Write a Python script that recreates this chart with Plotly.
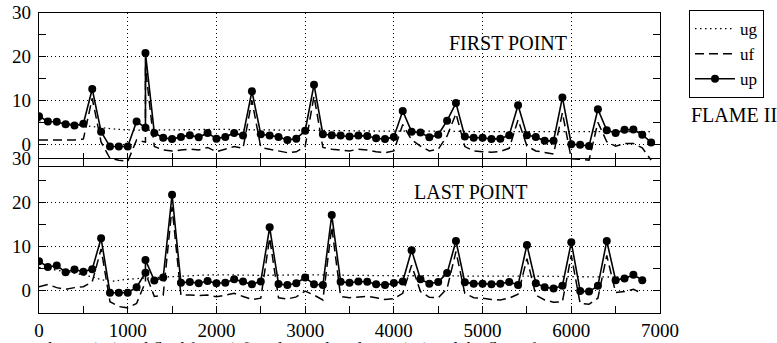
import plotly.graph_objects as go

# ---------------- data ----------------
x_first = [0, 100, 200, 300, 400, 500, 600, 700, 800, 900, 1000, 1100, 1200, 1200,
           1300, 1400, 1500, 1600, 1700, 1800, 1900, 2000, 2100, 2200, 2300, 2400,
           2500, 2600, 2700, 2800, 2900, 3000, 3100, 3200, 3300, 3400, 3500, 3600,
           3700, 3800, 3900, 4000, 4100, 4200, 4300, 4400, 4500, 4600, 4700, 4800,
           4900, 5000, 5100, 5200, 5300, 5400, 5500, 5600, 5700, 5800, 5900, 6000,
           6100, 6200, 6300, 6400, 6500, 6600, 6700, 6800, 6900]
up_first = [6.4, 5.2, 5.15, 4.6, 4.3, 4.7, 12.6, 2.9, -0.5, -0.5, -0.5, 5.2, 3.8, 20.8,
            2.6, 1.5, 1.2, 1.7, 2.1, 1.6, 2.6, 1.3, 1.7, 2.6, 2.0, 12.1,
            2.3, 2.0, 1.7, 1.0, 1.3, 3.1, 13.6, 2.3, 2.1, 2.0, 1.8, 2.0,
            1.9, 1.4, 1.2, 1.7, 7.6, 2.9, 2.7, 1.6, 2.2, 5.4, 9.4, 1.8,
            1.5, 1.5, 1.2, 1.3, 2.1, 8.9, 2.1, 1.7, 0.8, 0.8, 10.7, 0.0,
            -0.1, -0.4, 8.0, 3.2, 2.6, 3.3, 3.4, 2.2, 0.45]
uf_first = [1.0, 1.0, 1.1, 1.0, 1.0, 1.2, 10.5, 0.5, -3.2, -3.6, -3.9, 1.0, 0.5, 17.5,
            -0.5, -1.3, -1.5, -1.3, -1.1, -1.3, -0.7, -1.7, -1.1, -0.5, -0.9, 10.0,
            -0.7, -1.1, -1.4, -1.9, -1.7, -0.5, 11.0, -0.7, -1.1, -1.3, -1.5, -1.1,
            -1.3, -1.7, -1.9, -1.5, 4.5, 1.0, -0.4, -1.5, -1.1, 1.9, 7.0, -0.5,
            -1.5, -1.7, -1.8, -1.6, -0.9, 5.6, -0.4, -1.5, -1.9, -2.2, 7.2, -3.3,
            -3.4, -3.6, 5.0, 0.6, -0.4, 0.2, 0.2, -0.8, -3.6]
xg_first = [0, 500, 800, 1000, 1500, 2000, 2500, 3000, 3500, 4000, 4500, 5000, 5500, 6000, 6500, 6900]
ug_first = [5.4, 4.3, 3.6, 3.3, 3.3, 3.4, 3.3, 3.2, 3.1, 3.0, 3.0, 2.9, 2.9, 2.9, 2.9, 2.9]

x_last = [0, 100, 200, 300, 400, 500, 600, 700, 800, 900, 1000, 1100, 1200, 1200,
          1300, 1400, 1500, 1600, 1700, 1800, 1900, 2000, 2100, 2200, 2300, 2400,
          2500, 2600, 2700, 2800, 2900, 3000, 3100, 3200, 3300, 3400, 3500, 3600,
          3700, 3800, 3900, 4000, 4100, 4200, 4300, 4400, 4500, 4600, 4700, 4800,
          4900, 5000, 5100, 5200, 5300, 5400, 5500, 5600, 5700, 5800, 5900, 6000,
          6100, 6200, 6300, 6400, 6500, 6600, 6700, 6800]
up_last = [6.7, 5.4, 5.7, 4.2, 4.8, 4.3, 4.9, 11.9, -0.45, -0.45, -0.45, 0.8, 4.1, 7.0,
           2.3, 3.0, 21.8, 1.8, 2.0, 1.7, 2.2, 1.7, 1.8, 2.6, 2.1, 1.45,
           2.1, 14.4, 1.5, 1.3, 1.7, 3.0, 1.45, 1.3, 17.2, 2.05, 1.8, 2.1,
           2.05, 1.45, 1.3, 1.75, 2.1, 9.2, 2.6, 1.6, 2.0, 4.0, 11.3, 1.9,
           1.6, 1.6, 1.45, 1.6, 2.0, 1.3, 10.4, 1.7, 0.8, 0.5, 1.15, 11.0,
           -0.07, -0.2, 1.1, 11.3, 2.4, 2.8, 3.6, 2.4]
uf_last = [0.9, 1.4, 0.7, 0.3, 0.7, 0.9, 2.0, 9.5, -2.5, -3.6, -3.9, -2.9, 2.0, 4.0,
           -1.3, -1.0, 19.0, -1.0, -1.0, -1.1, -1.0, -1.4, -1.0, -0.6, -1.3, -2.0,
           -1.7, 12.0, -1.6, -1.9, -1.4, -0.1, -1.0, -2.1, 14.5, -1.3, -1.6, -1.4,
           -1.3, -1.6, -2.0, -1.8, -0.6, 5.8, -0.2, -1.5, -1.6, 0.5, 8.9, -0.6,
           -1.6, -1.7, -2.0, -2.1, -1.7, -0.8, 7.3, -1.0, -2.1, -2.6, -2.5, 8.0,
           -2.9, -3.1, -1.7, 8.0, -0.4, -0.2, 0.3, -0.6]
xg_last = [0, 500, 800, 1000, 1500, 2000, 2500, 3000, 3500, 4000, 4500, 5000, 5500, 6000, 6500, 6800]
ug_last = [5.3, 3.6, 2.2, 2.6, 3.2, 3.6, 3.5, 3.6, 3.5, 3.4, 3.4, 3.3, 3.3, 3.2, 3.1, 3.0]

y_ticks = [0, 10, 20, 30]
x_ticks = [0, 1000, 2000, 3000, 4000, 5000, 6000, 7000]
series_names = ["ug", "uf", "up"]

FONT = "Liberation Serif"
W, H = 777, 343

fig = go.Figure()

def add_panel(xg, ug, x, uf, up, xa, ya, legend):
    fig.add_trace(go.Scatter(x=xg, y=ug, mode="lines", name=series_names[0],
                             line=dict(color="black", width=1.3, dash="1.5px,3.5px", shape="spline"),
                             xaxis=xa, yaxis=ya, showlegend=legend))
    fig.add_trace(go.Scatter(x=x, y=uf, mode="lines", name=series_names[1],
                             line=dict(color="black", width=1.5, dash="9px,5px"),
                             xaxis=xa, yaxis=ya, showlegend=legend))
    fig.add_trace(go.Scatter(x=x, y=up, mode="lines+markers", name=series_names[2],
                             line=dict(color="black", width=1.6),
                             marker=dict(color="black", size=8),
                             xaxis=xa, yaxis=ya, showlegend=legend))

add_panel(xg_first, ug_first, x_first, uf_first, up_first, "x", "y", True)
add_panel(xg_last, ug_last, x_last, uf_last, up_last, "x2", "y2", False)

xdom = [39 / W, 660 / W]
ydom_top = [1 - 166.3 / H, 1 - 12.7 / H]
ydom_bot = [1 - 312.7 / H, 1 - 158.7 / H]

common_x = dict(range=[0, 7000], tickvals=x_ticks, showgrid=True, gridcolor="black",
                griddash="1px,3px", gridwidth=1, showline=True, linecolor="black",
                linewidth=1.2, mirror=True, ticks="inside", tickcolor="black",
                zeroline=False, domain=xdom, automargin=False,
                tickfont=dict(family=FONT, size=19, color="black"))
common_y = dict(range=[-5, 30], tickvals=y_ticks, showgrid=True, gridcolor="black",
                griddash="1px,3px", gridwidth=1, showline=True, linecolor="black",
                linewidth=1.2, mirror="ticks", ticks="inside", ticklen=7, tickcolor="black",
                zeroline=False, automargin=False, ticklabelstandoff=3,
                minor=dict(dtick=5, tick0=0, ticks="inside", ticklen=7, tickcolor="black", showgrid=False),
                tickfont=dict(family=FONT, size=19, color="black"))

fig.update_layout(
    width=W, height=H, autosize=False,
    margin=dict(l=0, r=0, t=0, b=0),
    paper_bgcolor="white", plot_bgcolor="rgba(0,0,0,0)",
    font=dict(family=FONT, color="black"),
    xaxis=dict(common_x, anchor="y", showticklabels=False, ticklen=13,
               minor=dict(dtick=500, tick0=0, ticks="inside", ticklen=13, tickcolor="black", showgrid=False)),
    yaxis=dict(common_y, domain=ydom_top, anchor="x"),
    xaxis2=dict(common_x, anchor="y2", showticklabels=True, ticklen=7,
                minor=dict(dtick=500, tick0=0, ticks="inside", ticklen=7, tickcolor="black", showgrid=False)),
    yaxis2=dict(common_y, domain=ydom_bot, anchor="x2"),
    legend=dict(x=689 / W, y=1 - 10 / H, xanchor="left", yanchor="top",
                bordercolor="black", borderwidth=1, bgcolor="white",
                font=dict(family=FONT, size=17, color="black"),
                tracegroupgap=0, itemwidth=40),
    annotations=[
        dict(text="FIRST POINT", x=508 / W, y=1 - 30 / H, xref="paper", yref="paper",
             showarrow=False, font=dict(family=FONT, size=20, color="black")),
        dict(text="LAST POINT", x=530 / W, y=1 - 192 / H, xref="paper", yref="paper",
             showarrow=False, font=dict(family=FONT, size=20, color="black")),
        dict(text="FLAME II", x=689 / W, y=1 - 115 / H, xref="paper", yref="paper",
             xanchor="left", showarrow=False, font=dict(family=FONT, size=20, color="black")),
        dict(text="velocity (ug) and fluid force (uf) and particle velocity (up) and the flame front",
             x=30 / W, y=1 - 337 / H, xref="paper", yref="paper", xanchor="left", yanchor="top",
             showarrow=False, font=dict(family=FONT, size=17, color="black")),
    ],
)

fig.write_html("out.html")
